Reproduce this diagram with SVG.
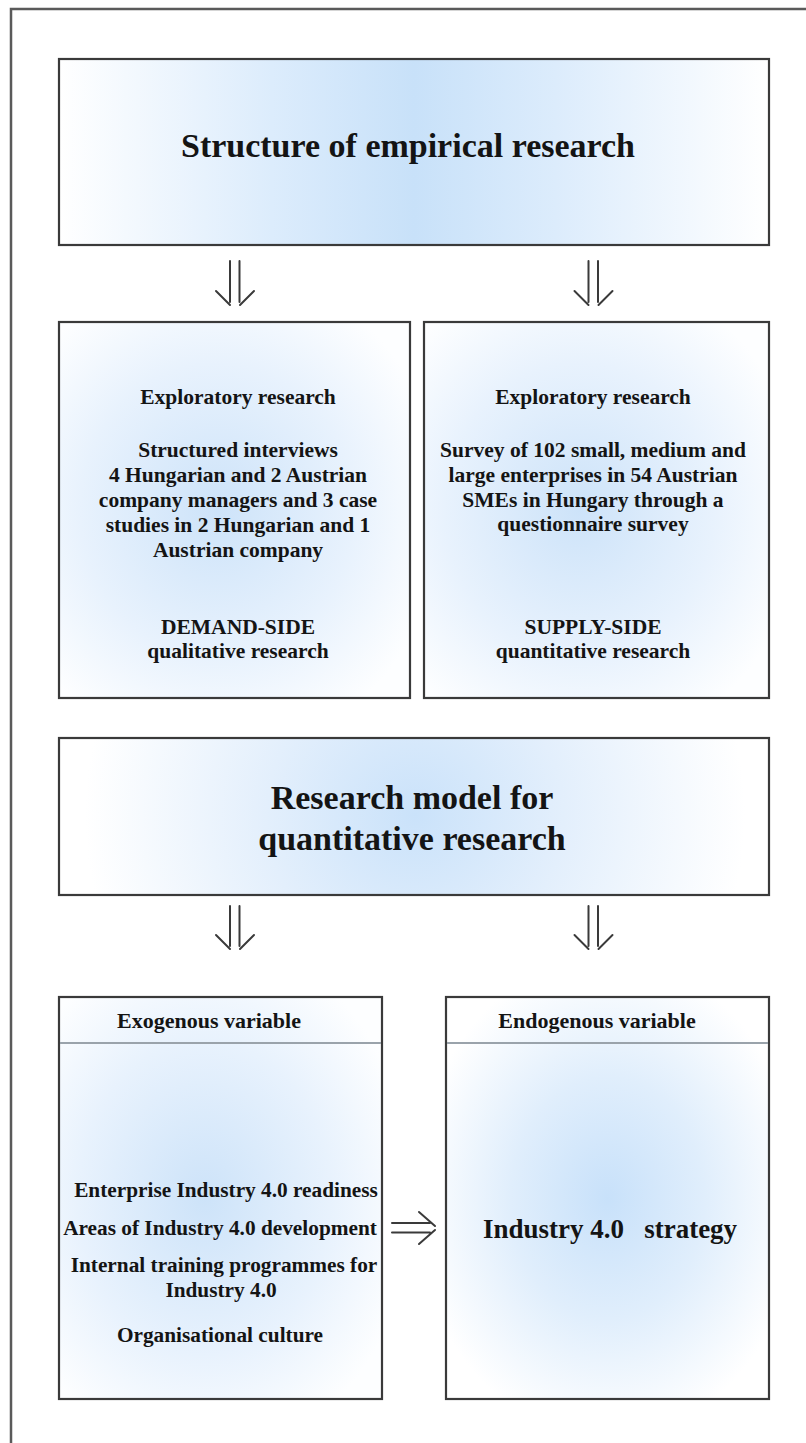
<svg xmlns="http://www.w3.org/2000/svg" width="806" height="1443" viewBox="0 0 806 1443">
<defs>
<radialGradient id="g1" cx="0.5" cy="0.5" r="0.6" gradientUnits="objectBoundingBox">
<stop offset="0" stop-color="#c8e1fa"/>
<stop offset="0.5" stop-color="#e0eefc"/>
<stop offset="1" stop-color="#ffffff"/>
</radialGradient>
<radialGradient id="gm" cx="415" cy="815" r="330" gradientUnits="userSpaceOnUse">
<stop offset="0" stop-color="#cae2fa"/>
<stop offset="0.45" stop-color="#e3effc"/>
<stop offset="1" stop-color="#ffffff"/>
</radialGradient>
<radialGradient id="g2" cx="0.45" cy="0.5" r="0.65" gradientUnits="objectBoundingBox">
<stop offset="0" stop-color="#cde3f9"/>
<stop offset="0.6" stop-color="#e8f2fd"/>
<stop offset="1" stop-color="#fdfeff"/>
</radialGradient>
<linearGradient id="gh" x1="0" y1="0" x2="1" y2="0">
<stop offset="0" stop-color="#ffffff"/>
<stop offset="0.3" stop-color="#dcecfc"/>
<stop offset="0.5" stop-color="#c8e1f9"/>
<stop offset="0.7" stop-color="#dcecfc"/>
<stop offset="1" stop-color="#ffffff"/>
</linearGradient>
</defs>
<style>
.box{stroke:#3a3a3a;stroke-width:2.2}
.frame{stroke:#5a5a5a;stroke-width:2.5;fill:none}
.div{stroke:#9aa3ab;stroke-width:2}
.arr{stroke:#3a3a3a;stroke-width:2;fill:none;stroke-linecap:round}
text{font-family:"Liberation Serif","Times New Roman",serif;font-weight:bold;fill:#141414;text-anchor:middle}
.big{font-size:34px}
.mid{font-size:21.5px}
.sm{font-size:21.3px}
.hd{font-size:22px}
.ind{font-size:27px}
</style>
<rect width="806" height="1443" fill="#ffffff"/>
<g id="frame">
<path class="frame" d="M11,1443 V9 H806"/>
</g>
<g id="connectors">
<path class="arr" d="M230,261 V302 M239.5,261 V302 M216,291 L230,305 M254,291 L240,305"/>
<path class="arr" d="M588.5,261 V302 M598,261 V302 M574.5,291 L588.5,305 M612.5,291 L598.5,305"/>
<path class="arr" d="M230,906 V946 M239.5,906 V946 M216,935 L230,949 M254,935 L240,949"/>
<path class="arr" d="M588.5,906 V946 M598,906 V946 M574.5,935 L588.5,949 M612.5,935 L598.5,949"/>
<path class="arr" d="M392,1223 H430 M392,1232.5 H430 M419,1212 L435,1226 M419,1244 L435,1230"/>
</g>
<g id="node-structure">
<rect class="box" x="59" y="59" width="710" height="186" fill="url(#gh)"/>
<text class="big" x="408" y="157" textLength="454" lengthAdjust="spacingAndGlyphs">Structure of empirical research</text>
</g>
<g id="node-demand">
<rect class="box" x="59" y="322" width="351" height="376" fill="url(#g2)"/>
<text class="mid" x="238" y="404">Exploratory research</text>
<text class="mid" x="238" y="457">Structured interviews</text>
<text class="mid" x="238" y="482">4 Hungarian and 2 Austrian</text>
<text class="mid" x="238" y="507">company managers and 3 case</text>
<text class="mid" x="238" y="532">studies in 2 Hungarian and 1</text>
<text class="mid" x="238" y="557">Austrian company</text>
<text class="mid" x="238" y="634">DEMAND-SIDE</text>
<text class="mid" x="238" y="658">qualitative research</text>
</g>
<g id="node-supply">
<rect class="box" x="424" y="322" width="345" height="376" fill="url(#g2)"/>
<text class="mid" x="593" y="404">Exploratory research</text>
<text class="mid" x="593" y="457">Survey of 102 small, medium and</text>
<text class="mid" x="593" y="482">large enterprises in 54 Austrian</text>
<text class="mid" x="593" y="507">SMEs in Hungary through a</text>
<text class="mid" x="593" y="531">questionnaire survey</text>
<text class="mid" x="593" y="634">SUPPLY-SIDE</text>
<text class="mid" x="593" y="658">quantitative research</text>
</g>
<g id="node-model">
<rect class="box" x="59" y="738" width="710" height="157" fill="url(#gm)"/>
<text class="big" x="412" y="809">Research model for</text>
<text class="big" x="412" y="850">quantitative research</text>
</g>
<g id="node-exogenous">
<rect class="box" x="59" y="997" width="323" height="402" fill="url(#g2)"/>
<line class="div" x1="60" y1="1043" x2="381" y2="1043"/>
<text class="hd" x="209" y="1028">Exogenous variable</text>
<text class="sm" x="226" y="1197">Enterprise Industry 4.0 readiness</text>
<text class="sm" x="220" y="1235">Areas of Industry 4.0 development</text>
<text class="sm" x="224" y="1272">Internal training programmes for</text>
<text class="sm" x="221" y="1297">Industry 4.0</text>
<text class="sm" x="220" y="1342">Organisational culture</text>
</g>
<g id="node-endogenous">
<rect class="box" x="446" y="997" width="323" height="402" fill="url(#g1)"/>
<line class="div" x1="447" y1="1043" x2="768" y2="1043"/>
<text class="hd" x="597" y="1028">Endogenous variable</text>
<text class="ind" x="610" y="1238" xml:space="preserve">Industry 4.0   strategy</text>
</g>
</svg>
